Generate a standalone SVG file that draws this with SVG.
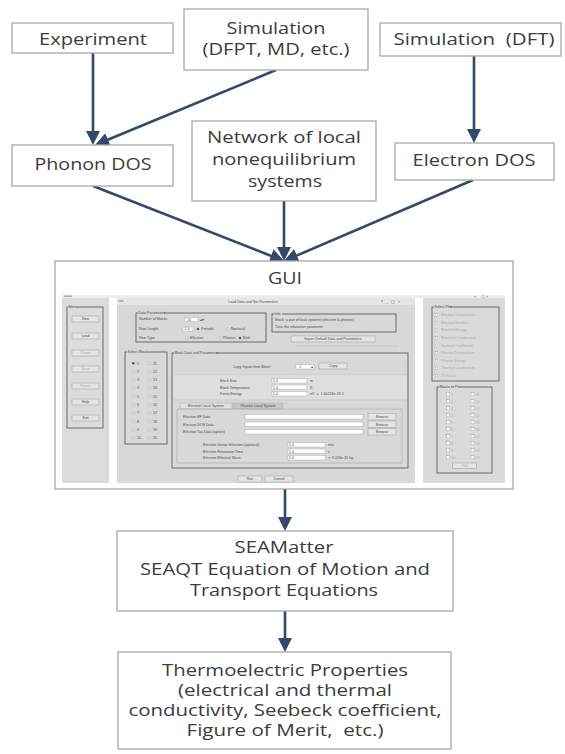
<svg xmlns="http://www.w3.org/2000/svg" width="565" height="754" viewBox="0 0 565 754">
<style>
.box{fill:#fff;stroke:#A8A8A8;stroke-width:1.3}
.lbl{font-family:"Open Sans","Liberation Sans",sans-serif;font-size:16px;fill:#3C3C3C;text-anchor:middle}
.conn{stroke:#33496B;stroke-width:2.6;fill:none;marker-end:url(#ah)}
.t{font-family:"Liberation Sans",sans-serif;font-size:3.6px;fill:#4A4A4A}
.td{font-family:"Liberation Sans",sans-serif;font-size:3.6px;fill:#ABABAB}
.tc{font-family:"Liberation Sans",sans-serif;font-size:3.6px;fill:#4A4A4A;text-anchor:middle}
.tcd{font-family:"Liberation Sans",sans-serif;font-size:3.6px;fill:#ABABAB;text-anchor:middle}
.fr{fill:none;stroke:#5E5E5E;stroke-width:0.9}
.btn{fill:#E4E4E4;stroke:#9C9C9C;stroke-width:0.5}
.fld{fill:#FFFFFF;stroke:#A0A0A0;stroke-width:0.4}
.rad{fill:#F4F4F4;stroke:#8A8A8A;stroke-width:0.4}
.chk{fill:#FFFFFF;stroke:#9A9A9A;stroke-width:0.4}
.tbg{fill:#D8D8D8}
</style>
<defs>
<marker id="ah" viewBox="0 0 14 14" markerWidth="14" markerHeight="14" markerUnits="userSpaceOnUse" refX="10" refY="7" orient="auto">
<path d="M0,0 L14,7 L0,14 z" fill="#33496B"/>
</marker>
</defs>
<rect width="565" height="754" fill="#fff"/>

<g id="connectors">
<path class="conn" d="M93,53 L93,141"/>
<path class="conn" d="M276,70 L98.7,143.5"/>
<path class="conn" d="M474,56 L474,139"/>
<path class="conn" d="M93,186 L280.3,259.5"/>
<path class="conn" d="M284,201 L284,257"/>
<path class="conn" d="M473,180 L287.7,259.4"/>
<path class="conn" d="M285,489 L285,527"/>
<path class="conn" d="M285,611 L285,648"/>
</g>

<g id="n-experiment">
<rect class="box" x="12" y="23" width="161" height="30"/>
<text class="lbl" x="93" y="45" textLength="108" lengthAdjust="spacingAndGlyphs">Experiment</text>
</g>
<g id="n-sim-dfpt">
<rect class="box" x="184" y="9" width="184" height="61"/>
<text class="lbl" x="276" y="34" textLength="99" lengthAdjust="spacingAndGlyphs">Simulation</text>
<text class="lbl" x="276" y="55" textLength="147" lengthAdjust="spacingAndGlyphs">(DFPT, MD, etc.)</text>
</g>
<g id="n-sim-dft">
<rect class="box" x="380" y="23" width="181" height="33"/>
<text class="lbl" x="474" y="45" textLength="161" lengthAdjust="spacingAndGlyphs" xml:space="preserve">Simulation  (DFT)</text>
</g>
<g id="n-phonon">
<rect class="box" x="12" y="145" width="161" height="41"/>
<text class="lbl" x="93" y="170" textLength="117" lengthAdjust="spacingAndGlyphs">Phonon DOS</text>
</g>
<g id="n-network">
<rect class="box" x="192" y="121" width="184" height="80"/>
<text class="lbl" x="284" y="143" textLength="154" lengthAdjust="spacingAndGlyphs">Network of local</text>
<text class="lbl" x="284" y="165" textLength="144" lengthAdjust="spacingAndGlyphs">nonequilibrium</text>
<text class="lbl" x="285" y="187" textLength="74" lengthAdjust="spacingAndGlyphs">systems</text>
</g>
<g id="n-electron">
<rect class="box" x="395" y="143" width="159" height="37"/>
<text class="lbl" x="474" y="166" textLength="123" lengthAdjust="spacingAndGlyphs">Electron DOS</text>
</g>

<g id="n-gui">
<rect class="box" x="55" y="261" width="458" height="228"/>
<text class="lbl" x="285" y="284" textLength="34" lengthAdjust="spacingAndGlyphs">GUI</text>
<!-- screenshot -->
<rect x="62" y="295" width="443" height="188" fill="#DCDCDC"/>
<rect x="62" y="295" width="443" height="3" fill="#ECECEC"/>
<rect x="64" y="295.6" width="8" height="1.2" fill="#7F9CC4"/>
<text class="t" x="474" y="298.3" xml:space="preserve">×  _  □  ×</text>
<rect x="109" y="298" width="8" height="185" fill="#FFFFFF"/>
<rect x="415" y="298" width="8" height="185" fill="#FFFFFF"/>
<!-- left menu -->
<rect class="fr" x="67" y="307" width="36" height="121"/>
<rect class="tbg" x="68" y="305.5" width="9" height="3"/>
<text class="t" x="68.5" y="308.2">Menu</text>
<rect class="btn" x="72" y="316" width="27" height="6"/><text class="tc" x="85.5" y="320.2">New</text>
<rect class="btn" x="72" y="333" width="27" height="6"/><text class="tc" x="85.5" y="337.2">Load</text>
<rect class="btn" x="72" y="350" width="27" height="6"/><text class="tcd" x="85.5" y="354.2">Reset</text>
<rect class="btn" x="72" y="366" width="27" height="6"/><text class="tcd" x="85.5" y="370.2">Save</text>
<rect class="btn" x="72" y="383" width="27" height="6"/><text class="tcd" x="85.5" y="387.2">Export</text>
<rect class="btn" x="72" y="399" width="27" height="6"/><text class="tc" x="85.5" y="403.2">Help</text>
<rect class="btn" x="72" y="415" width="27" height="6"/><text class="tc" x="85.5" y="419.2">Exit</text>
<!-- dialog -->
<rect x="117" y="298" width="298" height="185" fill="#D8D8D8"/>
<rect x="117" y="298" width="298" height="7" fill="#E6E6E6"/>
<rect x="118.5" y="300" width="5" height="2" fill="#9FB4D2"/>
<text class="tc" x="253" y="303.2">Load Data and Set Parameters</text>
<text class="t" x="381" y="303.4" xml:space="preserve">?   _   ▢   ×</text>
<!-- data parameters -->
<rect class="fr" x="136" y="313" width="130" height="29"/>
<rect class="tbg" x="138" y="311.5" width="26" height="3"/>
<text class="t" x="138.5" y="314.2">Data Parameters</text>
<text class="t" x="139" y="320.3">Number of Blocks</text>
<rect class="fld" x="185" y="317.5" width="13" height="4"/><text class="t" x="187" y="320.6">10</text>
<text class="t" x="200" y="320.6">▴▾</text>
<text class="t" x="139" y="330">Row Length</text>
<rect class="fld" x="183" y="327" width="10" height="4"/><text class="t" x="184.5" y="330.2">1.0</text>
<circle cx="198" cy="329" r="1.3" fill="#3C5D8F"/><text class="t" x="201" y="330.2">Periodic</text>
<circle class="rad" cx="228" cy="329" r="1.3"/><text class="t" x="231" y="330.2">Nonlocal</text>
<text class="t" x="139" y="339.2">Row Type</text>
<circle class="rad" cx="187" cy="338" r="1.3"/><text class="t" x="190" y="339.2">Electron</text>
<circle class="rad" cx="220" cy="338" r="1.3"/><text class="t" x="223" y="339.2">Phonon</text>
<circle cx="240" cy="338" r="1.3" fill="#3C5D8F"/><text class="t" x="243" y="339.2">Both</text>
<!-- info -->
<rect class="fr" x="272" y="314" width="124" height="18"/>
<rect class="tbg" x="274" y="312.5" width="8" height="3"/>
<text class="t" x="274.5" y="315.2">Info</text>
<text class="t" x="275" y="321">Block: a pair of local systems (electron &amp; phonon)</text>
<text class="t" x="275" y="328.3">Tune the relaxation parameter</text>
<rect class="btn" x="291" y="336" width="84" height="6"/>
<text class="tc" x="333" y="340.2">Import Default Data and Parameters</text>
<line x1="295" y1="346" x2="398" y2="346" stroke="#BDBDBD" stroke-width="0.6"/>
<!-- select block -->
<rect class="fr" x="125" y="352" width="42" height="92"/>
<rect class="tbg" x="127" y="350.5" width="20" height="3"/>
<text class="t" x="127.5" y="353.2">Select Block</text>
<g>
<circle cx="133.3" cy="363.3" r="1.3" fill="#3C5D8F"/><text class="t" x="137" y="364.5">1</text><circle class="rad" cx="149.3" cy="363.3" r="1.3"/><text class="t" x="153" y="364.5">11</text>
<circle class="rad" cx="133.3" cy="371.6" r="1.3"/><text class="t" x="137" y="372.8">2</text><circle class="rad" cx="149.3" cy="371.6" r="1.3"/><text class="t" x="153" y="372.8">12</text>
<circle class="rad" cx="133.3" cy="379.9" r="1.3"/><text class="t" x="137" y="381.1">3</text><circle class="rad" cx="149.3" cy="379.9" r="1.3"/><text class="t" x="153" y="381.1">13</text>
<circle class="rad" cx="133.3" cy="388.2" r="1.3"/><text class="t" x="137" y="389.4">4</text><circle class="rad" cx="149.3" cy="388.2" r="1.3"/><text class="t" x="153" y="389.4">14</text>
<circle class="rad" cx="133.3" cy="396.5" r="1.3"/><text class="t" x="137" y="397.7">5</text><circle class="rad" cx="149.3" cy="396.5" r="1.3"/><text class="t" x="153" y="397.7">15</text>
<circle class="rad" cx="133.3" cy="404.8" r="1.3"/><text class="t" x="137" y="406">6</text><circle class="rad" cx="149.3" cy="404.8" r="1.3"/><text class="t" x="153" y="406">16</text>
<circle class="rad" cx="133.3" cy="413.1" r="1.3"/><text class="t" x="137" y="414.3">7</text><circle class="rad" cx="149.3" cy="413.1" r="1.3"/><text class="t" x="153" y="414.3">17</text>
<circle class="rad" cx="133.3" cy="421.4" r="1.3"/><text class="t" x="137" y="422.6">8</text><circle class="rad" cx="149.3" cy="421.4" r="1.3"/><text class="t" x="153" y="422.6">18</text>
<circle class="rad" cx="133.3" cy="429.7" r="1.3"/><text class="t" x="137" y="430.9">9</text><circle class="rad" cx="149.3" cy="429.7" r="1.3"/><text class="t" x="153" y="430.9">19</text>
<circle class="rad" cx="133.3" cy="438" r="1.3"/><text class="t" x="137" y="439.2">10</text><circle class="rad" cx="149.3" cy="438" r="1.3"/><text class="t" x="153" y="439.2">20</text>
</g>
<!-- block data -->
<rect class="fr" x="172" y="353" width="236" height="115"/>
<rect class="tbg" x="174" y="351.5" width="42" height="3"/>
<text class="t" x="174.5" y="354.2">Block Data and Parameters</text>
<text class="t" x="233" y="367.8">Copy Inputs from Block:</text>
<rect class="fld" x="296" y="364.5" width="18" height="4.5"/><text class="t" x="299" y="367.9">1</text><text class="t" x="310.5" y="367.9">▴</text>
<rect class="btn" x="319" y="363" width="28" height="6"/><text class="tc" x="333" y="367.2">Copy</text>
<line x1="173" y1="375" x2="407" y2="375" stroke="#C4C4C4" stroke-width="0.6"/>
<rect x="173" y="375.3" width="234" height="24.4" fill="#DEDEDE"/>
<text class="t" x="220" y="382">Block Size</text>
<rect class="fld" x="272" y="378.5" width="35" height="4.5"/><text class="t" x="273" y="382">1.0</text><text class="t" x="310" y="382">m</text>
<text class="t" x="220" y="388.5">Block Temperature</text>
<rect class="fld" x="272" y="385" width="35" height="4.5"/><text class="t" x="273" y="388.5">1.0</text><text class="t" x="310" y="388.5">K</text>
<text class="t" x="220" y="395">Fermi Energy</text>
<rect class="fld" x="272" y="391.5" width="35" height="4.5"/><text class="t" x="273" y="395">1.0</text><text class="t" x="310" y="395" xml:space="preserve">eV  =  1.60218e-19 J</text>
<line x1="173" y1="400" x2="407" y2="400" stroke="#C4C4C4" stroke-width="0.6"/>
<rect x="180" y="403" width="52" height="6" fill="#E0E0E0" stroke="#A0A0A0" stroke-width="0.4"/>
<text class="tc" x="206" y="407.2">Electron Local System</text>
<rect x="233" y="403" width="50" height="6" fill="#C6C6C6" stroke="#A0A0A0" stroke-width="0.4"/>
<text class="tc" x="258" y="407.2">Phonon Local System</text>
<rect x="177" y="409" width="225" height="54" fill="none" stroke="#9E9E9E" stroke-width="0.5"/>
<text class="t" x="183" y="418.2">Electron EF Data</text>
<rect class="fld" x="245" y="414.5" width="118" height="4.5"/>
<rect class="btn" x="368" y="413.5" width="28" height="6.5"/><text class="tc" x="382" y="418">Browse</text>
<text class="t" x="183" y="425.8">Electron DOS Data</text>
<rect class="fld" x="245" y="422" width="118" height="4.5"/>
<rect class="btn" x="368" y="421" width="28" height="6.5"/><text class="tc" x="382" y="425.5">Browse</text>
<text class="t" x="183" y="433.4">Electron Tau Data (option)</text>
<rect class="fld" x="245" y="429.5" width="118" height="4.5"/>
<rect class="btn" x="368" y="428.5" width="28" height="6.5"/><text class="tc" x="382" y="433">Browse</text>
<text class="t" x="203" y="446">Electron Group Velocities (optional)</text>
<rect class="fld" x="288" y="442.5" width="37" height="4.5"/><text class="t" x="289" y="446">1.0</text><text class="t" x="328" y="446">m/s</text>
<text class="t" x="203" y="452.5">Electron Relaxation Time</text>
<rect class="fld" x="288" y="449" width="37" height="4.5"/><text class="t" x="289" y="452.5">1.0</text><text class="t" x="328" y="452.5">s</text>
<text class="t" x="203" y="459">Electron Effective Mass</text>
<rect class="fld" x="288" y="455.5" width="37" height="4.5"/><text class="t" x="289" y="459">1.0</text><text class="t" x="328" y="459" xml:space="preserve">×  9.109e-31 kg</text>
<rect class="btn" x="238" y="476" width="24" height="6"/><text class="tc" x="250" y="480.2">Run</text>
<rect class="btn" x="265" y="476" width="28" height="6"/><text class="tc" x="279" y="480.2">Cancel</text>
<!-- right panel -->
<rect x="423" y="298" width="82" height="185" fill="#DADADA"/>
<rect class="fr" x="432" y="307" width="67" height="74"/>
<rect class="tbg" x="434" y="305.5" width="16" height="3"/>
<text class="t" x="434.5" y="308.2">Select Plot</text>
<g>
<rect class="chk" x="435.3" y="313.8" width="2.4" height="2.4"/><text class="td" x="441" y="316.2">Electron Temperature</text>
<rect class="chk" x="435.3" y="321.4" width="2.4" height="2.4"/><text class="td" x="441" y="323.8">Electron Number</text>
<rect class="chk" x="435.3" y="329" width="2.4" height="2.4"/><text class="td" x="441" y="331.4">Electron Energy</text>
<rect class="chk" x="435.3" y="336.6" width="2.4" height="2.4"/><text class="td" x="441" y="339">Electrical Conductivity</text>
<rect class="chk" x="435.3" y="344.2" width="2.4" height="2.4"/><text class="td" x="441" y="346.6">Seebeck Coefficient</text>
<rect class="chk" x="435.3" y="351.8" width="2.4" height="2.4"/><text class="td" x="441" y="354.2">Phonon Temperature</text>
<rect class="chk" x="435.3" y="359.4" width="2.4" height="2.4"/><text class="td" x="441" y="361.8">Phonon Energy</text>
<rect class="chk" x="435.3" y="367" width="2.4" height="2.4"/><text class="td" x="441" y="369.4">Thermal Conductivity</text>
<rect class="chk" x="435.3" y="374.6" width="2.4" height="2.4"/><text class="td" x="441" y="377">ZT Factor</text>
</g>
<rect class="fr" x="437" y="387" width="55" height="86"/>
<rect class="tbg" x="439" y="385.5" width="22" height="3"/>
<text class="t" x="439.5" y="388.2">Blocks to Plot</text>
<g>
<rect class="chk" x="446.5" y="392.8" width="3" height="3"/><text class="td" x="451" y="395.6">1</text><rect class="chk" x="471" y="392.8" width="3" height="3"/><text class="td" x="475.5" y="395.6">11</text>
<rect class="chk" x="446.5" y="399.8" width="3" height="3"/><text class="td" x="451" y="402.6">2</text><rect class="chk" x="471" y="399.8" width="3" height="3"/><text class="td" x="475.5" y="402.6">12</text>
<rect class="chk" x="446.5" y="406.8" width="3" height="3"/><text class="td" x="451" y="409.6">3</text><rect class="chk" x="471" y="406.8" width="3" height="3"/><text class="td" x="475.5" y="409.6">13</text>
<rect class="chk" x="446.5" y="413.8" width="3" height="3"/><text class="td" x="451" y="416.6">4</text><rect class="chk" x="471" y="413.8" width="3" height="3"/><text class="td" x="475.5" y="416.6">14</text>
<rect class="chk" x="446.5" y="420.8" width="3" height="3"/><text class="td" x="451" y="423.6">5</text><rect class="chk" x="471" y="420.8" width="3" height="3"/><text class="td" x="475.5" y="423.6">15</text>
<rect class="chk" x="446.5" y="427.8" width="3" height="3"/><text class="td" x="451" y="430.6">6</text><rect class="chk" x="471" y="427.8" width="3" height="3"/><text class="td" x="475.5" y="430.6">16</text>
<rect class="chk" x="446.5" y="434.8" width="3" height="3"/><text class="td" x="451" y="437.6">7</text><rect class="chk" x="471" y="434.8" width="3" height="3"/><text class="td" x="475.5" y="437.6">17</text>
<rect class="chk" x="446.5" y="441.8" width="3" height="3"/><text class="td" x="451" y="444.6">8</text><rect class="chk" x="471" y="441.8" width="3" height="3"/><text class="td" x="475.5" y="444.6">18</text>
<rect class="chk" x="446.5" y="448.8" width="3" height="3"/><text class="td" x="451" y="451.6">9</text><rect class="chk" x="471" y="448.8" width="3" height="3"/><text class="td" x="475.5" y="451.6">19</text>
<rect class="chk" x="446.5" y="455.8" width="3" height="3"/><text class="td" x="451" y="458.6">10</text><rect class="chk" x="471" y="455.8" width="3" height="3"/><text class="td" x="475.5" y="458.6">20</text>
</g>
<rect class="btn" x="452.7" y="463" width="24" height="5.5"/><text class="tcd" x="464.7" y="467">Plot</text>
</g>

<g id="n-seamatter">
<rect class="box" x="117" y="531" width="336" height="80"/>
<text class="lbl" x="284" y="553" textLength="99" lengthAdjust="spacingAndGlyphs">SEAMatter</text>
<text class="lbl" x="285" y="575" textLength="290" lengthAdjust="spacingAndGlyphs">SEAQT Equation of Motion and</text>
<text class="lbl" x="284" y="596" textLength="188" lengthAdjust="spacingAndGlyphs">Transport Equations</text>
</g>
<g id="n-thermo">
<rect class="box" x="118" y="652" width="333" height="97"/>
<text class="lbl" x="285" y="676" textLength="246" lengthAdjust="spacingAndGlyphs">Thermoelectric Properties</text>
<text class="lbl" x="285" y="696" textLength="214" lengthAdjust="spacingAndGlyphs">(electrical and thermal</text>
<text class="lbl" x="285" y="716" textLength="313" lengthAdjust="spacingAndGlyphs">conductivity, Seebeck coefficient,</text>
<text class="lbl" x="285" y="736" textLength="197" lengthAdjust="spacingAndGlyphs" xml:space="preserve">Figure of Merit,  etc.)</text>
</g>
</svg>
